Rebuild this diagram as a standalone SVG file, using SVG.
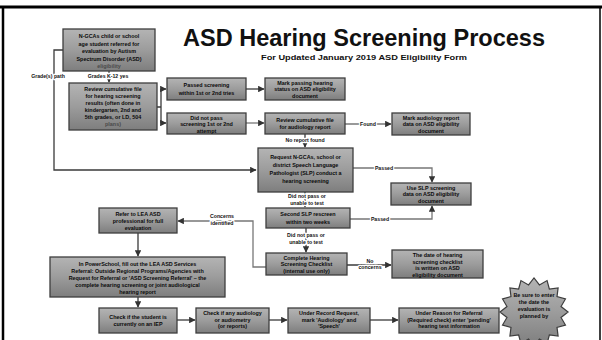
<svg xmlns="http://www.w3.org/2000/svg" width="602" height="340" viewBox="0 0 602 340">
<defs>
<linearGradient id="g" x1="0" y1="0" x2="0" y2="1">
<stop offset="0" stop-color="#b4b4b4"/>
<stop offset="0.5" stop-color="#9c9c9c"/>
<stop offset="1" stop-color="#7e7e7e"/>
</linearGradient>
<marker id="ah" viewBox="0 0 10 10" refX="9" refY="5" markerWidth="5" markerHeight="5" orient="auto-start-reverse">
<path d="M0,0 L10,5 L0,10 z" fill="#333"/>
</marker>
</defs>
<style>
.box{fill:url(#g);stroke:#3e3e3e;stroke-width:1.3}
.t{font-family:"Liberation Sans",Arial,sans-serif;font-weight:bold;font-size:5.4px;fill:#0a0a0a;text-anchor:middle}
.lt{fill:#4a4a4a}
.lbl{font-family:"Liberation Sans",Arial,sans-serif;font-weight:bold;font-size:5.2px;fill:#111;text-anchor:middle;paint-order:stroke;stroke:#fff;stroke-width:2.5px;stroke-linejoin:round}
.c{fill:none;stroke:#3a3a3a;stroke-width:1.3}
.cl{fill:none;stroke:#777;stroke-width:1.3}
</style>
<rect width="602" height="340" fill="#fff"/>
<g id="frame" fill="none" stroke="#000">
<path d="M0,7 H602" stroke-width="3"/>
<path d="M3,7 V340" stroke-width="2.5"/>
<path d="M600,7 V340" stroke-width="1.5"/>
</g>
<g id="title">
<text x="364" y="46" font-family="Liberation Sans,Arial,sans-serif" font-weight="bold" font-size="23" text-anchor="middle" fill="#111" textLength="362" lengthAdjust="spacingAndGlyphs">ASD Hearing Screening Process</text>
<text x="364" y="60" font-family="Liberation Sans,Arial,sans-serif" font-weight="bold" font-size="6.6" text-anchor="middle" fill="#111" textLength="206" lengthAdjust="spacingAndGlyphs">For Updated January 2019 ASD Eligibility Form</text>
</g>
<g id="connectors">
<path class="c" d="M63,50 H54 V170 H256" stroke-width="1.8" marker-end="url(#ah)"/>
<path class="c" d="M109,71 V82" marker-end="url(#ah)"/>
<path class="c" d="M157,107 H161 M161,89 V123"/>
<path class="c" d="M161,89 H166" marker-end="url(#ah)"/>
<path class="c" d="M161,123 H166" marker-end="url(#ah)"/>
<path class="c" d="M246,89 H264" marker-end="url(#ah)"/>
<path class="cl" d="M246,123 H264" marker-end="url(#ah)"/>
<path class="cl" d="M345,124 H391" marker-end="url(#ah)"/>
<path class="c" d="M305,134 V147" marker-end="url(#ah)"/>
<path class="cl" d="M353,168 H432 V182" marker-end="url(#ah)"/>
<path class="c" d="M305,192 V207" marker-end="url(#ah)"/>
<path class="cl" d="M350,219 H432 V206" marker-end="url(#ah)"/>
<path class="c" d="M306,228 V252" marker-end="url(#ah)"/>
<path class="cl" d="M266,267 H253 V221 H178" marker-end="url(#ah)"/>
<path class="c" d="M138,233 V256" marker-end="url(#ah)"/>
<path class="c" d="M347,265 H391" marker-end="url(#ah)"/>
<path class="c" d="M138,297 V307" marker-end="url(#ah)"/>
<path class="c" d="M177,320 H195" marker-end="url(#ah)"/>
<path class="c" d="M269,320 H287" marker-end="url(#ah)"/>
<path class="c" d="M370,320 H398" marker-end="url(#ah)"/>
<text class="lbl" x="48" y="78">Grade(s) path</text>
<text class="lbl" x="108" y="78">Grades K-12 yes</text>
<text class="lbl" x="368" y="126">Found</text>
<text class="lbl" x="305" y="142">No report found</text>
<text class="lbl" x="384" y="170">Passed</text>
<text class="lbl" x="307" y="198">Did not pass or</text>
<text class="lbl" x="307" y="204.5">unable to test</text>
<text class="lbl" x="380" y="221">Passed</text>
<text class="lbl" x="306" y="237">Did not pass or</text>
<text class="lbl" x="306" y="244">unable to test</text>
<text class="lbl" x="222" y="218">Concerns</text>
<text class="lbl" x="222" y="225">identified</text>
<text class="lbl" x="370" y="263">No</text>
<text class="lbl" x="370" y="269">concerns</text>
</g>
<g id="nA"><rect class="box" x="63" y="29" width="92" height="42"/>
<text class="t" x="109" y="38">N-GCAs child or school</text><text class="t" x="109" y="45.5">age student referred for</text><text class="t" x="109" y="53">evaluation by Autism</text><text class="t" x="109" y="60.5">Spectrum Disorder (ASD)</text><text class="t lt" x="109" y="68">eligibility</text></g>
<g id="nB"><rect class="box" x="69" y="83" width="88" height="47"/>
<text class="t" x="113" y="91">Review cumulative file</text><text class="t" x="113" y="98">for hearing screening</text><text class="t" x="113" y="105">results (often done in</text><text class="t" x="113" y="112">kindergarten, 2nd and</text><text class="t" x="113" y="119">5th grades, or LD, 504</text><text class="t lt" x="113" y="126">plans)</text></g>
<g id="nC"><rect class="box" x="167" y="78" width="79" height="22"/>
<text class="t" x="206.5" y="87">Passed screening</text><text class="t" x="206.5" y="95">within 1st or 2nd tries</text></g>
<g id="nE"><rect class="box" x="265" y="78" width="80" height="22"/>
<text class="t" x="305" y="84.5">Mark passing hearing</text><text class="t" x="305" y="91">status on ASD eligibility</text><text class="t" x="305" y="97.5">document</text></g>
<g id="nD"><rect class="box" x="167" y="113" width="79" height="21"/>
<text class="t" x="206.5" y="119.5">Did not pass</text><text class="t" x="206.5" y="126">screening 1st or 2nd</text><text class="t" x="206.5" y="132.5">attempt</text></g>
<g id="nF"><rect class="box" x="265" y="113" width="80" height="21"/>
<text class="t" x="305" y="121.5">Review cumulative file</text><text class="t" x="305" y="129">for audiology report</text></g>
<g id="nG"><rect class="box" x="392" y="113" width="78" height="22"/>
<text class="t" x="431" y="119.5">Mark audiology report</text><text class="t" x="431" y="126">data on ASD eligibility</text><text class="t" x="431" y="132.5">document</text></g>
<g id="nH"><rect class="box" x="258" y="148" width="95" height="44"/>
<text class="t" x="305.5" y="159">Request N-GCAs, school or</text><text class="t" x="305.5" y="167">district Speech Language</text><text class="t" x="305.5" y="175">Pathologist (SLP) conduct a</text><text class="t" x="305.5" y="183">hearing screening</text></g>
<g id="nI"><rect class="box" x="391" y="183" width="80" height="22"/>
<text class="t" x="431" y="189.5">Use SLP screening</text><text class="t" x="431" y="196">data on ASD eligibility</text><text class="t" x="431" y="202.5">document</text></g>
<g id="nJ"><rect class="box" x="266" y="208" width="84" height="20"/>
<text class="t" x="308" y="216">Second SLP rescreen</text><text class="t" x="308" y="224">within two weeks</text></g>
<g id="nK"><rect class="box" x="266" y="253" width="81" height="22"/>
<text class="t" x="306.5" y="259.5">Complete Hearing</text><text class="t" x="306.5" y="266">Screening Checklist</text><text class="t" x="306.5" y="272.5">(internal use only)</text></g>
<g id="nL"><rect class="box" x="99" y="208" width="78" height="25"/>
<text class="t" x="138" y="215.5">Refer to LEA ASD</text><text class="t" x="138" y="222.5">professional for full</text><text class="t" x="138" y="229.5">evaluation</text></g>
<g id="nM"><rect class="box" x="50" y="257" width="175" height="40"/>
<text class="t" x="137.5" y="266">In PowerSchool, fill out the LEA ASD Services</text><text class="t" x="137.5" y="273">Referral: Outside Regional Programs/Agencies with</text><text class="t" x="137.5" y="280">Request for Referral or 'ASD Screening Referral' – the</text><text class="t" x="137.5" y="287">complete hearing screening or joint audiological</text><text class="t" x="137.5" y="294">hearing report</text></g>
<g id="nN"><rect class="box" x="392" y="250" width="91" height="28"/>
<text class="t" x="437.5" y="257">The date of hearing</text><text class="t" x="437.5" y="263.5">screening checklist</text><text class="t" x="437.5" y="270">is written on ASD</text><text class="t" x="437.5" y="276.5">eligibility document</text></g>
<g id="nO"><rect class="box" x="99" y="308" width="78" height="25"/>
<text class="t" x="138" y="318.5">Check if the student is</text><text class="t" x="138" y="326">currently on an IEP</text></g>
<g id="nP"><rect class="box" x="196" y="308" width="73" height="25"/>
<text class="t" x="232.5" y="315">Check if any audiology</text><text class="t" x="232.5" y="321.5">or audiometry</text><text class="t" x="232.5" y="328">(or reports)</text></g>
<g id="nQ"><rect class="box" x="288" y="308" width="82" height="25"/>
<text class="t" x="329" y="315">Under Record Request,</text><text class="t" x="329" y="321.5">mark 'Audiology' and</text><text class="t" x="329" y="328">'Speech'</text></g>
<g id="nR"><rect class="box" x="399" y="308" width="100" height="25"/>
<text class="t" x="449" y="315">Under Reason for Referral</text><text class="t" x="449" y="321.5">(Required check) enter 'pending'</text><text class="t" x="449" y="328">hearing test information</text></g>
<g id="nS">
<polygon class="box" transform="translate(534,312) scale(0.92) translate(-534,-310)" points="571,310 563.4,315.9 568.2,324.2 559,326.7 560.2,336.2 550.7,335 548.2,344.2 539.9,339.4 534,347 528.1,339.4 519.8,344.2 517.3,335 507.8,336.2 509,326.7 499.8,324.2 504.6,315.9 497,310 504.6,304.1 499.8,295.8 509,293.3 507.8,283.8 517.3,285 519.8,275.8 528.1,280.6 534,273 539.9,280.6 548.2,275.8 550.7,285 560.2,283.8 559,293.3 568.2,295.8 563.4,304.1"/>
<text class="t" x="534" y="297">Be sure to enter</text><text class="t" x="534" y="304">the date the</text><text class="t" x="534" y="311">evaluation is</text><text class="t" x="534" y="318">planned by</text></g>
</svg>
